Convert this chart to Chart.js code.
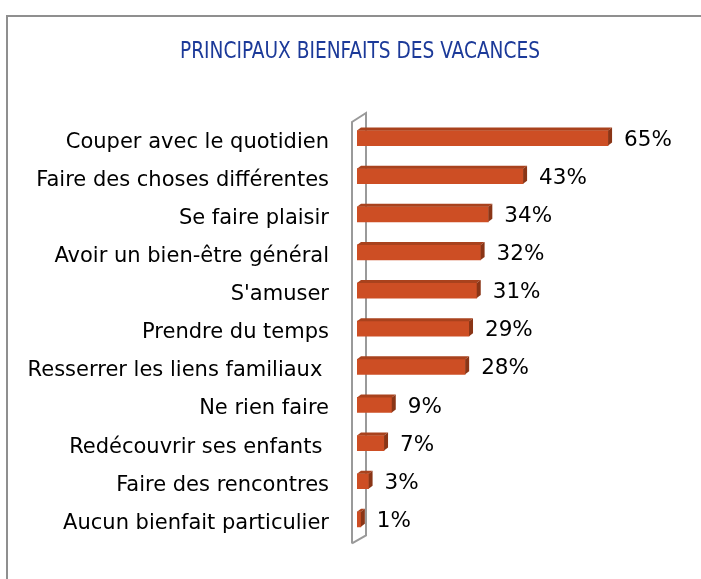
<!DOCTYPE html>
<html>
<head>
<meta charset="utf-8">
<script src="https://cdn.jsdelivr.net/npm/chart.js@4.4.0/dist/chart.umd.min.js"></script>
<style>
html,body{margin:0;padding:0;background:#fff;}
#wrap{width:701px;height:579px;position:relative;}
</style>
</head>
<body>
<div id="wrap"><canvas id="c" width="701" height="579"></canvas></div>
<script>
const categories = [
  "Couper avec le quotidien",
  "Faire des choses différentes",
  "Se faire plaisir",
  "Avoir un bien-être général",
  "S'amuser",
  "Prendre du temps",
  "Resserrer les liens familiaux ",
  "Ne rien faire",
  "Redécouvrir ses enfants ",
  "Faire des rencontres",
  "Aucun bienfait particulier"
];
const values = [65, 43, 34, 32, 31, 29, 28, 9, 7, 3, 1];
const valueLabels = values.map(v => v + "%");
const titleText = "PRINCIPAUX BIENFAITS DES VACANCES";

const FRONT = "#cd4e24", TOP = "#a9421d", SIDE = "#8a3516";
const DX = 4, DY = 3;
const LABEL_FONT = "'DejaVu Sans', sans-serif";

const framePlugin = {
  id: 'frame',
  beforeDraw(chart) {
    const ctx = chart.ctx;
    ctx.save();
    ctx.fillStyle = '#fff';
    ctx.fillRect(0, 0, chart.width, chart.height);
    ctx.strokeStyle = '#8f8f8f';
    ctx.lineWidth = 2;
    ctx.beginPath();
    ctx.moveTo(7, 600);
    ctx.lineTo(7, 16);
    ctx.lineTo(720, 16);
    ctx.stroke();
    // title
    ctx.fillStyle = '#1c3a99';
    ctx.font = "23px 'Liberation Sans Narrow', 'DejaVu Sans Condensed', sans-serif";
    ctx.textAlign = 'center';
    ctx.textBaseline = 'middle';
    const w = ctx.measureText(titleText).width;
    const sx = 360 / w;
    ctx.translate(360, 52);
    ctx.scale(sx, 1);
    ctx.fillText(titleText, 0, 0);
    ctx.restore();
  },
  beforeDatasetsDraw(chart) {
    const ctx = chart.ctx;
    const a = chart.chartArea;
    const l = a.left - 5, r = a.left + 9;
    const t = a.top - 6, b = a.bottom + 5;
    ctx.save();
    ctx.strokeStyle = '#9a9a9a';
    ctx.lineWidth = 2;
    ctx.beginPath();
    ctx.moveTo(l, b);
    ctx.lineTo(l, t + 9);
    ctx.lineTo(r, t);
    ctx.lineTo(r, b - 8);
    ctx.lineTo(l, b);
    ctx.stroke();
    ctx.restore();
  },
  afterDatasetsDraw(chart) {
    const ctx = chart.ctx;
    const meta = chart.getDatasetMeta(0);
    ctx.save();
    meta.data.forEach((el, i) => {
      const p = el.getProps(['x', 'y', 'base', 'height'], true);
      const top = p.y - p.height / 2, bot = p.y + p.height / 2;
      const x0 = p.base, x1 = p.x;
      ctx.fillStyle = TOP;
      ctx.beginPath();
      ctx.moveTo(x0, top);
      ctx.lineTo(x1, top);
      ctx.lineTo(x1 + DX, top - DY);
      ctx.lineTo(x0 + DX, top - DY);
      ctx.closePath();
      ctx.fill();
      ctx.fillStyle = SIDE;
      ctx.beginPath();
      ctx.moveTo(x1, top);
      ctx.lineTo(x1 + DX, top - DY);
      ctx.lineTo(x1 + DX, bot - DY);
      ctx.lineTo(x1, bot);
      ctx.closePath();
      ctx.fill();
      ctx.fillStyle = '#000';
      ctx.font = "21.5px " + LABEL_FONT;
      ctx.textAlign = 'left';
      ctx.textBaseline = 'middle';
      ctx.fillText(valueLabels[i], x1 + 16, p.y + 2);
    });
    ctx.restore();
  }
};

new Chart(document.getElementById('c'), {
  type: 'bar',
  data: {
    labels: categories,
    datasets: [{
      data: values,
      backgroundColor: FRONT,
      borderWidth: 0,
      barThickness: 15
    }]
  },
  options: {
    indexAxis: 'y',
    responsive: false,
    animation: false,
    events: [],
    layout: { padding: { left: 0, right: 35, top: 119, bottom: 36 } },
    plugins: { legend: { display: false }, tooltip: { enabled: false }, title: { display: false } },
    scales: {
      x: { display: false, min: 0, max: 80 },
      y: {
        grid: { display: false, drawTicks: false },
        border: { display: false },
        ticks: { color: '#000', font: { family: LABEL_FONT, size: 21 }, padding: 28, labelOffset: 4, autoSkip: false },
        afterFit(scale) { scale.width = 357; }
      }
    }
  },
  plugins: [framePlugin]
});
</script>
</body>
</html>
